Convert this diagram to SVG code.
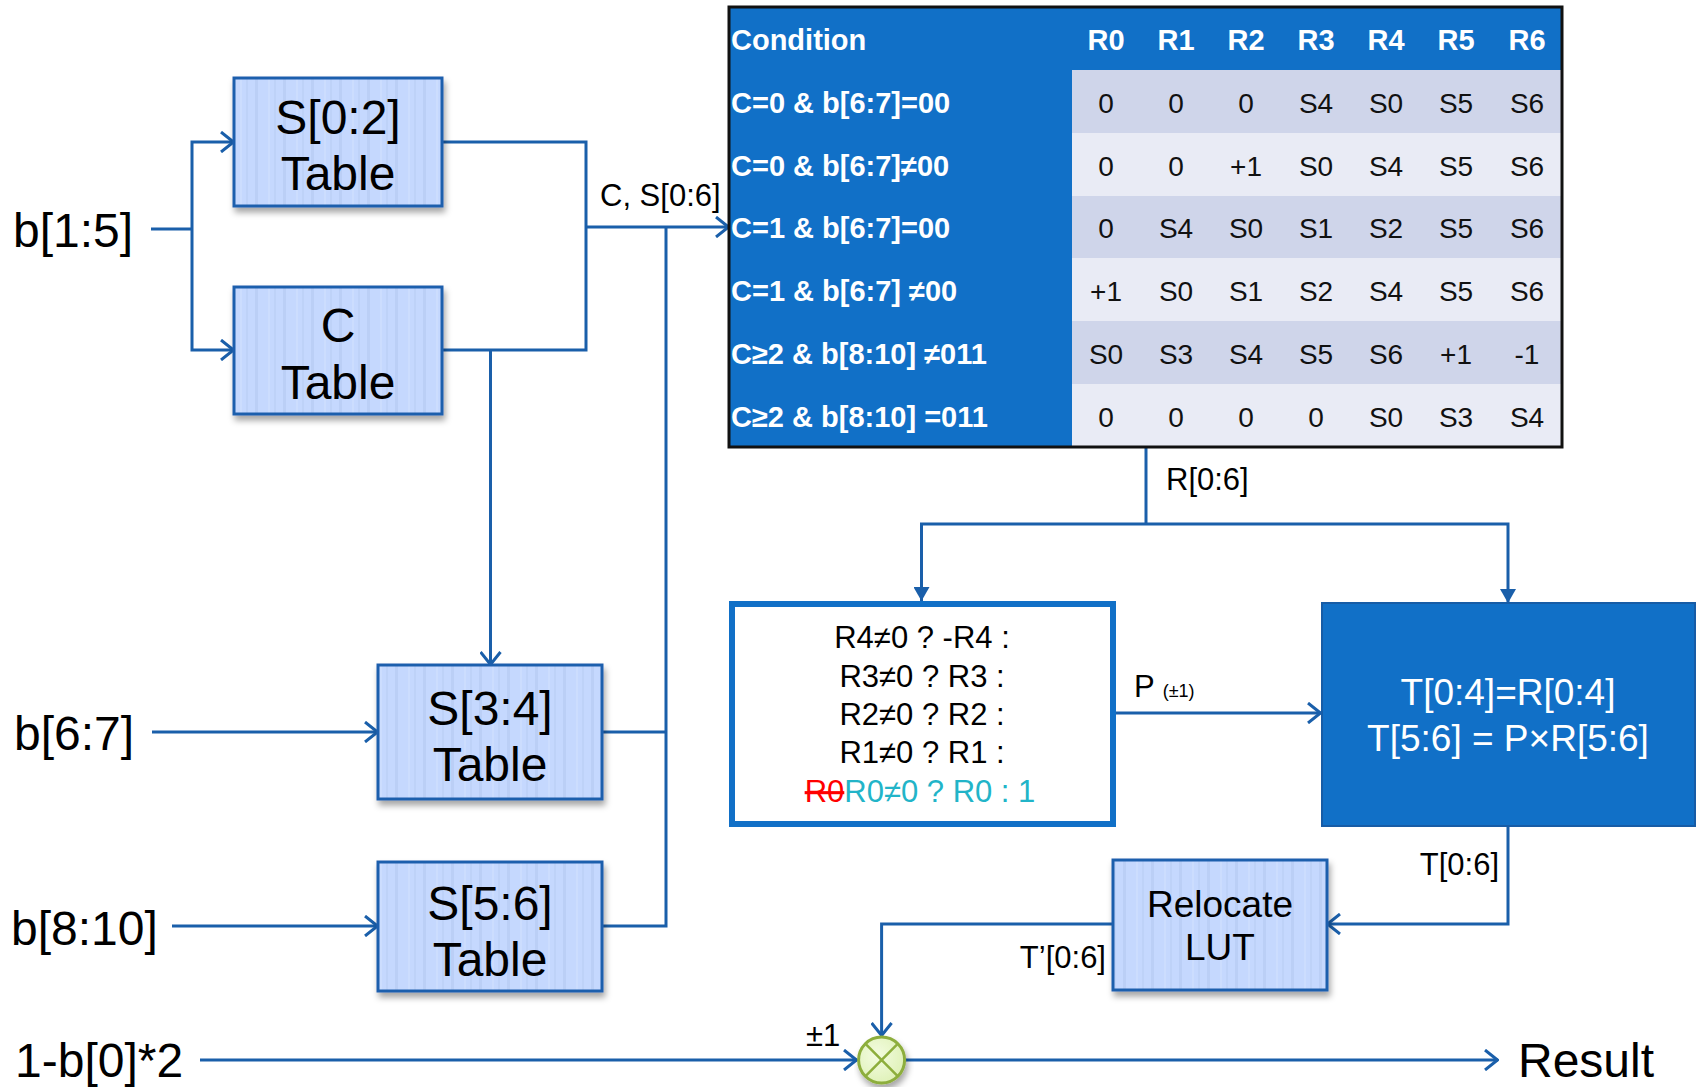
<svg xmlns="http://www.w3.org/2000/svg" width="1701" height="1087" viewBox="0 0 1701 1087">
<defs>
<style>
text{font-family:"Liberation Sans",Arial,sans-serif;}
.big{font-size:48px;fill:#000;}
.lbl{font-size:31px;fill:#000;}
.mid{font-size:37px;fill:#000;}
.hdr{font-size:29px;font-weight:bold;fill:#fff;}
.cell{font-size:28px;fill:#111;text-anchor:middle;}
.cond{font-size:31px;fill:#000;text-anchor:middle;}
.wire{fill:none;stroke:#1A5FAA;stroke-width:3;}
.tbox{fill:url(#stripes);stroke:#1F5FAD;stroke-width:3;filter:url(#sh);}
</style>
<pattern id="stripes" patternUnits="userSpaceOnUse" width="28" height="10">
<rect width="28" height="10" fill="#C5D8FE"/>
<rect x="3" width="3" height="10" fill="#BBCFF6"/>
<rect x="16" width="2" height="10" fill="#CCDDFE"/>
<rect x="22" width="2" height="10" fill="#BED2F8"/>
</pattern>
<radialGradient id="gr" cx="0.4" cy="0.4" r="0.7">
<stop offset="0" stop-color="#F3FCE0"/>
<stop offset="1" stop-color="#DDF0B4"/>
</radialGradient>
<filter id="sh" x="-10%" y="-10%" width="130%" height="130%">
<feDropShadow dx="2" dy="5" stdDeviation="3" flood-color="#000" flood-opacity="0.35"/>
</filter>
<marker id="open" markerUnits="userSpaceOnUse" viewBox="0 0 16 22" markerWidth="16" markerHeight="22" refX="15" refY="11" orient="auto">
<path d="M2,1 L14.5,11 L2,21" fill="none" stroke="#1A5FAA" stroke-width="3"/>
</marker>
<marker id="fill" markerUnits="userSpaceOnUse" viewBox="0 0 14 16" markerWidth="14" markerHeight="16" refX="14" refY="8" orient="auto">
<path d="M0,0 L14,8 L0,16 Z" fill="#1A5FAA"/>
</marker>
</defs>
<rect width="1701" height="1087" fill="#fff"/>

<g id="connectors">
<path class="wire" d="M151,229 H192"/>
<path class="wire" d="M192,229 V142 H234" marker-end="url(#open)"/>
<path class="wire" d="M192,229 V350 H234" marker-end="url(#open)"/>
<path class="wire" d="M442,142 H586 V350 H442"/>
<path class="wire" d="M586,227 H729" marker-end="url(#open)"/>
<path class="wire" d="M490.5,350 V665" marker-end="url(#open)"/>
<path class="wire" d="M602,732 H666"/>
<path class="wire" d="M602,926 H666 V227"/>
<path class="wire" d="M152,732 H378" marker-end="url(#open)"/>
<path class="wire" d="M172,926 H378" marker-end="url(#open)"/>
<path class="wire" d="M1146,447 V524"/>
<path class="wire" d="M1146,524 H921.5 V601" marker-end="url(#fill)"/>
<path class="wire" d="M1146,524 H1508 V603" marker-end="url(#fill)"/>
<path class="wire" d="M1115,713 H1321" marker-end="url(#open)"/>
<path class="wire" d="M1508,826 V924 H1327" marker-end="url(#open)"/>
<path class="wire" d="M1113,924 H881.6 V1036" marker-end="url(#open)"/>
<path class="wire" d="M200,1060 H857" marker-end="url(#open)"/>
<path class="wire" d="M906,1060 H1498" marker-end="url(#open)"/>
</g>

<g id="inputs">
<text class="big" x="13" y="247">b[1:5]</text>
<text class="big" x="14" y="750">b[6:7]</text>
<text class="big" x="11" y="945">b[8:10]</text>
<text class="big" x="15" y="1077">1-b[0]*2</text>
<text class="big" x="1518" y="1077">Result</text>
</g>

<g id="labels">
<text class="lbl" x="600" y="206">C, S[0:6]</text>
<text class="lbl" x="1166" y="490">R[0:6]</text>
<text class="lbl" x="1134" y="697">P <tspan font-size="18">(±1)</tspan></text>
<text class="lbl" x="1499" y="875" text-anchor="end">T[0:6]</text>
<text class="lbl" x="1106" y="968" text-anchor="end">T’[0:6]</text>
<text class="lbl" x="806" y="1046" font-size="29">±1</text>
</g>

<g id="s02">
<rect class="tbox" x="234" y="78" width="208" height="128"/>
<text class="big" x="338" y="134" text-anchor="middle">S[0:2]</text>
<text class="big" x="338" y="190" text-anchor="middle">Table</text>
</g>
<g id="ctable">
<rect class="tbox" x="234" y="287" width="208" height="127"/>
<text class="big" x="338" y="342" text-anchor="middle">C</text>
<text class="big" x="338" y="399" text-anchor="middle">Table</text>
</g>
<g id="s34">
<rect class="tbox" x="378" y="665" width="224" height="134"/>
<text class="big" x="490" y="725" text-anchor="middle">S[3:4]</text>
<text class="big" x="490" y="781" text-anchor="middle">Table</text>
</g>
<g id="s56">
<rect class="tbox" x="378" y="862" width="224" height="129"/>
<text class="big" x="490" y="920" text-anchor="middle">S[5:6]</text>
<text class="big" x="490" y="976" text-anchor="middle">Table</text>
</g>

<g id="rtable">
<rect x="729" y="7" width="833" height="440" fill="#1170C7"/>
<rect x="1072" y="70" width="490" height="63" fill="#CFD5EA"/>
<rect x="1072" y="133" width="490" height="63" fill="#E9EBF5"/>
<rect x="1072" y="196" width="490" height="62" fill="#CFD5EA"/>
<rect x="1072" y="258" width="490" height="63" fill="#E9EBF5"/>
<rect x="1072" y="321" width="490" height="63" fill="#CFD5EA"/>
<rect x="1072" y="384" width="490" height="63" fill="#E9EBF5"/>
<rect x="729" y="7" width="833" height="440" fill="none" stroke="#111" stroke-width="3"/>
<text class="hdr" x="731" y="50">Condition</text>
<g text-anchor="middle">
<text class="hdr" x="1106" y="50">R0</text>
<text class="hdr" x="1176" y="50">R1</text>
<text class="hdr" x="1246" y="50">R2</text>
<text class="hdr" x="1316" y="50">R3</text>
<text class="hdr" x="1386" y="50">R4</text>
<text class="hdr" x="1456" y="50">R5</text>
<text class="hdr" x="1527" y="50">R6</text>
</g>
<text class="hdr" x="731" y="113">C=0 &amp; b[6:7]=00</text>
<text class="hdr" x="731" y="176">C=0 &amp; b[6:7]≠00</text>
<text class="hdr" x="731" y="238">C=1 &amp; b[6:7]=00</text>
<text class="hdr" x="731" y="301">C=1 &amp; b[6:7] ≠00</text>
<text class="hdr" x="731" y="364">C≥2 &amp; b[8:10] ≠011</text>
<text class="hdr" x="731" y="427">C≥2 &amp; b[8:10] =011</text>
<g>
<text class="cell" x="1106" y="113">0</text><text class="cell" x="1176" y="113">0</text><text class="cell" x="1246" y="113">0</text><text class="cell" x="1316" y="113">S4</text><text class="cell" x="1386" y="113">S0</text><text class="cell" x="1456" y="113">S5</text><text class="cell" x="1527" y="113">S6</text>
<text class="cell" x="1106" y="176">0</text><text class="cell" x="1176" y="176">0</text><text class="cell" x="1246" y="176">+1</text><text class="cell" x="1316" y="176">S0</text><text class="cell" x="1386" y="176">S4</text><text class="cell" x="1456" y="176">S5</text><text class="cell" x="1527" y="176">S6</text>
<text class="cell" x="1106" y="238">0</text><text class="cell" x="1176" y="238">S4</text><text class="cell" x="1246" y="238">S0</text><text class="cell" x="1316" y="238">S1</text><text class="cell" x="1386" y="238">S2</text><text class="cell" x="1456" y="238">S5</text><text class="cell" x="1527" y="238">S6</text>
<text class="cell" x="1106" y="301">+1</text><text class="cell" x="1176" y="301">S0</text><text class="cell" x="1246" y="301">S1</text><text class="cell" x="1316" y="301">S2</text><text class="cell" x="1386" y="301">S4</text><text class="cell" x="1456" y="301">S5</text><text class="cell" x="1527" y="301">S6</text>
<text class="cell" x="1106" y="364">S0</text><text class="cell" x="1176" y="364">S3</text><text class="cell" x="1246" y="364">S4</text><text class="cell" x="1316" y="364">S5</text><text class="cell" x="1386" y="364">S6</text><text class="cell" x="1456" y="364">+1</text><text class="cell" x="1527" y="364">-1</text>
<text class="cell" x="1106" y="427">0</text><text class="cell" x="1176" y="427">0</text><text class="cell" x="1246" y="427">0</text><text class="cell" x="1316" y="427">0</text><text class="cell" x="1386" y="427">S0</text><text class="cell" x="1456" y="427">S3</text><text class="cell" x="1527" y="427">S4</text>
</g>
</g>

<g id="pselect">
<rect x="732" y="604" width="381" height="220" fill="#fff" stroke="#1170C7" stroke-width="6"/>
<text class="cond" x="922" y="648">R4≠0 ? -R4 :</text>
<text class="cond" x="922" y="687">R3≠0 ? R3 :</text>
<text class="cond" x="922" y="725">R2≠0 ? R2 :</text>
<text class="cond" x="922" y="763">R1≠0 ? R1 :</text>
<text class="cond" x="920" y="802"><tspan fill="#FF0000" text-decoration="line-through">R0</tspan><tspan fill="#22B4C8">R0≠0 ? R0 : 1</tspan></text>
</g>

<g id="tcalc">
<rect x="1322" y="603" width="373" height="223" fill="#1170C7" stroke="#175CA6" stroke-width="2"/>
<text x="1508" y="705" font-size="37" fill="#fff" text-anchor="middle">T[0:4]=R[0:4]</text>
<text x="1508" y="751" font-size="37" fill="#fff" text-anchor="middle">T[5:6] = P×R[5:6]</text>
</g>

<g id="relocate">
<rect class="tbox" x="1113" y="860" width="214" height="130"/>
<text class="mid" x="1220" y="917" text-anchor="middle">Relocate</text>
<text class="mid" x="1220" y="960" text-anchor="middle">LUT</text>
</g>

<g id="mult">
<circle cx="881.6" cy="1060" r="23" fill="url(#gr)" stroke="#8DAE3C" stroke-width="3" filter="url(#sh)"/>
<path d="M865.3,1043.7 L897.9,1076.3 M897.9,1043.7 L865.3,1076.3" stroke="#8DAE3C" stroke-width="2.5"/>
</g>
</svg>
